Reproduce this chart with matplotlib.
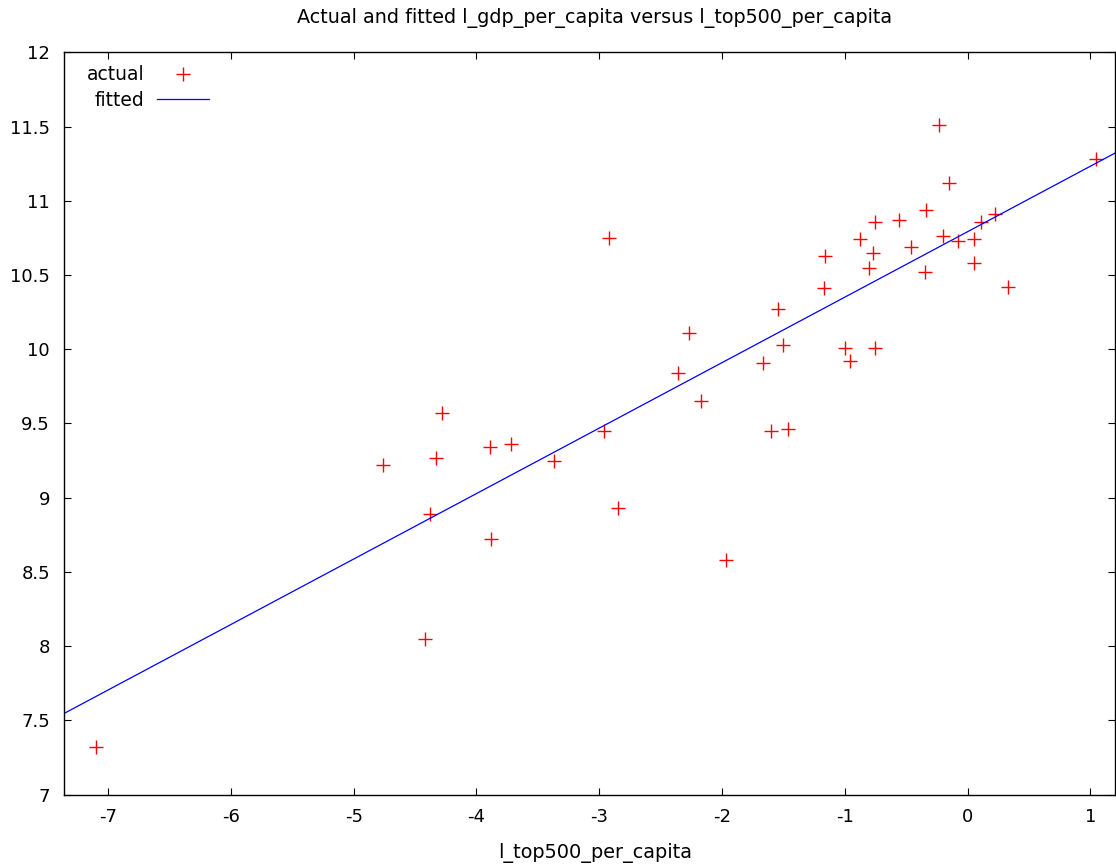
import numpy as np
import matplotlib
matplotlib.use("Agg")
import matplotlib.pyplot as plt

plt.rcParams["axes.unicode_minus"] = False

# values
l_top500_per_capita = [
    -7.10, -4.76, -4.42, -4.38, -4.33, -4.28, -3.89, -3.88, -3.72, -3.37,
    -2.96, -2.92, -2.85, -2.36, -2.27, -2.17, -1.97, -1.67, -1.60, -1.54,
    -1.50, -1.46, -1.17, -1.16, -1.00, -0.96, -0.88, -0.80, -0.77, -0.75,
    -0.75, -0.56, -0.46, -0.35, -0.34, -0.23, -0.20, -0.15, -0.08, 0.05,
    0.05, 0.11, 0.22, 0.33, 1.05,
]
l_gdp_per_capita = [
    7.32, 9.22, 8.05, 8.89, 9.27, 9.57, 9.34, 8.72, 9.36, 9.25,
    9.45, 10.75, 8.93, 9.84, 10.11, 9.65, 8.58, 9.91, 9.45, 10.27,
    10.03, 9.46, 10.41, 10.63, 10.01, 9.92, 10.74, 10.55, 10.65, 10.86,
    10.01, 10.87, 10.69, 10.52, 10.94, 11.51, 10.76, 11.12, 10.73, 10.74,
    10.58, 10.86, 10.91, 10.42, 11.28,
]
x_ticks = [-7, -6, -5, -4, -3, -2, -1, 0, 1]
y_ticks = [7, 7.5, 8, 8.5, 9, 9.5, 10, 10.5, 11, 11.5, 12]
y_tick_labels = ["7", "7.5", "8", "8.5", "9", "9.5", "10", "10.5", "11", "11.5", "12"]


def plot_actual_fitted(x, y, output_path):
    """Scatter of actual values with the OLS fitted line."""
    x = np.asarray(x)
    y = np.asarray(y)
    slope, intercept = np.polyfit(x, y, 1)
    x_min, x_max = -7.36, 1.2
    line_x = np.array([x_min, x_max])

    fig = plt.figure(figsize=(11.16, 8.65), dpi=100)
    ax = fig.add_axes([0.0573, 0.0815, 0.9417, 0.858])
    ax.plot(x, y, linestyle="none", marker="+", color="#ff0000",
            markersize=10, markeredgewidth=1.0, label="actual")
    ax.plot(line_x, intercept + slope * line_x, color="#0000ff",
            linewidth=0.9, label="fitted")

    ax.set_xlim(x_min, x_max)
    ax.set_ylim(7, 12)
    ax.set_xticks(x_ticks)
    ax.set_yticks(y_ticks)
    ax.set_yticklabels(y_tick_labels)
    ax.tick_params(direction="in", length=5, width=0.8, labelsize=13,
                   top=True, right=True)
    ax.tick_params(axis="x", pad=10)
    ax.tick_params(axis="y", pad=10)
    for spine in ax.spines.values():
        spine.set_linewidth(1.0)

    fig.text(0.533, 0.979, "Actual and fitted l_gdp_per_capita versus l_top500_per_capita",
             ha="center", va="center", fontsize=13.8)
    fig.text(0.533, 0.014, "l_top500_per_capita", ha="center", va="center",
             fontsize=13.9)

    ax.legend(loc="upper left", bbox_to_anchor=(0.0095, 1.0),
              markerfirst=False, frameon=False, fontsize=13.5,
              handlelength=2.77, labelspacing=0.35, borderaxespad=0.3,
              handletextpad=0.64)
    fig.savefig(output_path, dpi=100)
    plt.close(fig)
    return output_path


plot_actual_fitted(l_top500_per_capita, l_gdp_per_capita, "out.png")
